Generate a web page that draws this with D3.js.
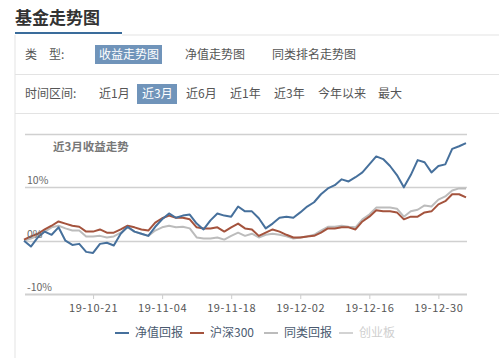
<!DOCTYPE html>
<html><head><meta charset="utf-8">
<script src="https://cdn.jsdelivr.net/npm/d3@7/dist/d3.min.js"></script>
<style>
body{margin:0;background:#fff;}
svg text{font-family:"Noto Sans CJK SC","Noto Sans",sans-serif;}
</style></head>
<body><svg id="c" width="499" height="358"></svg>
<script>
const dates = ["2019-09-30","2019-10-08","2019-10-09","2019-10-10","2019-10-11","2019-10-14","2019-10-15","2019-10-16","2019-10-17","2019-10-18",
"2019-10-21","2019-10-22","2019-10-23","2019-10-24","2019-10-25","2019-10-28","2019-10-29","2019-10-30","2019-10-31","2019-11-01",
"2019-11-04","2019-11-05","2019-11-06","2019-11-07","2019-11-08","2019-11-11","2019-11-12","2019-11-13","2019-11-14","2019-11-15",
"2019-11-18","2019-11-19","2019-11-20","2019-11-21","2019-11-22","2019-11-25","2019-11-26","2019-11-27","2019-11-28","2019-11-29",
"2019-12-02","2019-12-03","2019-12-04","2019-12-05","2019-12-06","2019-12-09","2019-12-10","2019-12-11","2019-12-12","2019-12-13",
"2019-12-16","2019-12-17","2019-12-18","2019-12-19","2019-12-20","2019-12-23","2019-12-24","2019-12-25","2019-12-26","2019-12-27",
"2019-12-30","2019-12-31","2020-01-02","2020-01-03","2020-01-06"];
const navReturn = [0,-1.1,0.6,1.7,1.1,2.5,0,-0.8,-0.6,-2.1,
-2.3,-0.6,-0.4,-0.9,1.3,2.6,1.7,1.3,0.9,2.6,
4.0,5.1,4.3,4.7,4.9,3.2,2.1,3.8,5.1,4.7,
4.5,6.4,5.5,5.5,4.2,2.3,3.2,4.3,4.5,4.3,
5.3,6.4,7.2,8.7,9.8,10.4,11.5,11.1,11.9,12.8,
14.3,15.8,15.3,14.0,12.3,10.0,12.3,15.1,14.7,12.8,
14.0,14.3,17.2,17.7,18.3];
const hs300 = [0.2,0.8,1.3,2.1,2.8,3.6,3.2,2.8,2.6,1.7,
1.7,2.1,1.5,1.5,2.1,2.8,2.5,2.1,1.9,3.4,
4.2,4.7,4.3,4.3,4.0,2.5,2.3,2.3,2.5,1.7,
2.5,3.2,2.3,2.1,0.9,1.5,2.1,1.7,1.1,0.6,
0.6,0.8,0.9,1.5,2.3,2.3,2.5,2.5,2.1,3.6,
4.5,5.7,5.5,5.5,5.3,4.0,4.5,4.5,5.3,5.5,
6.8,7.4,8.7,8.7,8.1];
const peerReturn = [0,0.4,0.9,1.7,2.5,2.8,2.3,1.9,1.9,0.8,
0.8,0.9,0.6,0.8,1.5,2.5,1.7,1.3,0.9,1.9,
2.5,2.8,2.5,2.6,2.3,0.6,0.4,0.4,0.6,0.2,
0.9,1.5,0.9,1.3,0.6,1.1,1.3,1.1,0.8,0.4,
0.6,0.8,1.1,1.9,2.6,2.6,2.8,2.6,2.5,4.0,
4.9,6.2,6.2,6.2,6.0,4.5,5.5,5.8,6.6,6.4,
7.7,8.3,9.4,9.8,9.8];
const tickDates = ["2019-10-21","2019-11-04","2019-11-18","2019-12-02","2019-12-16","2019-12-30"];
const yTicks = [-10,0,10,20];
const typeTabs = ["收益走势图","净值走势图","同类排名走势图"];
const rangeTabs = ["近1月","近3月","近6月","近1年","近3年","今年以来","最大"];
const legendNames = ["净值回报","沪深300","同类回报","创业板"];
const colors = ["#46709c","#a4533d","#bcbcbc","#d3d3d3"];

const svg = d3.select("#c");
// header
svg.append("text").attr("x",15).attr("y",24).attr("font-size",17).attr("font-weight","bold").attr("fill","#333").text("基金走势图");
svg.append("line").attr("x1",122).attr("x2",499).attr("y1",35).attr("y2",35).attr("stroke","#e3e3e3");
svg.append("line").attr("x1",15).attr("x2",15).attr("y1",35).attr("y2",358).attr("stroke","#e3e3e3");
svg.append("rect").attr("x",15).attr("y",32).attr("width",107).attr("height",2).attr("fill","#3a6c9b");
// row 1
svg.append("text").attr("x",25).attr("y",59).attr("font-size",12).attr("fill","#555").text("类　型:");
const t1x=[96,185,272];
typeTabs.forEach((t,i)=>{
  if(i===0) svg.append("rect").attr("x",95).attr("y",45).attr("width",67).attr("height",19).attr("fill","#7094ba");
  svg.append("text").attr("x",t1x[i]+ (i===0?3:0)).attr("y",59).attr("font-size",12).attr("fill",i===0?"#fff":"#555").text(t);
});
svg.append("line").attr("x1",15).attr("x2",499).attr("y1",74.5).attr("y2",74.5).attr("stroke","#e3e3e3");
// row 2
svg.append("text").attr("x",25).attr("y",98).attr("font-size",12).attr("fill","#555").text("时间区间:");
const t2x=[99,142,186,230,274,318,378];
rangeTabs.forEach((t,i)=>{
  if(i===1) svg.append("rect").attr("x",137).attr("y",84).attr("width",40).attr("height",20).attr("fill","#7094ba");
  svg.append("text").attr("x",t2x[i]).attr("y",98).attr("font-size",12).attr("fill",i===1?"#fff":"#555").text(t);
});
svg.append("line").attr("x1",15).attr("x2",499).attr("y1",113.5).attr("y2",113.5).attr("stroke","#e3e3e3");

// chart
const x = d3.scalePoint().domain(dates).range([24,466]);
const y = d3.scaleLinear().domain([-10,20]).range([294,134]);
const g = svg.append("g");
yTicks.forEach(v=>{
  g.append("line").attr("x1",25).attr("x2",467).attr("y1",Math.round(y(v))+0.5).attr("y2",Math.round(y(v))+0.5)
   .attr("stroke","#d0d0d0").attr("stroke-width",v===-10?2:1.3);
});
svg.append("text").attr("x",53).attr("y",151).attr("font-size",11.5).attr("font-weight","bold").attr("fill","#777").text("近3月收益走势");
const xa = g.append("g").attr("transform","translate(0,"+(Math.round(y(-10))+1)+")")
  .call(d3.axisBottom(x).tickValues(tickDates).tickSize(4).tickSizeOuter(0).tickFormat(d=>d.slice(2)));
xa.select(".domain").remove();
xa.selectAll("line").attr("stroke","#ccc");
xa.selectAll("text").attr("font-family","DejaVu Sans").attr("font-size",11).attr("letter-spacing","0.6px").attr("fill","#555").attr("dy","0.95em");
const series=[navReturn,hs300,peerReturn];
const line=d3.line().x((d,i)=>x(dates[i])).y(d=>y(d));
[2,1,0].forEach(k=>{
  g.append("path").datum(series[k]).attr("d",line).attr("fill","none").attr("stroke",colors[k]).attr("stroke-width",2).attr("stroke-linejoin","round");
});
yTicks.filter(v=>v<20).forEach(v=>{
  g.append("text").attr("x",27).attr("y",y(v)-3).attr("font-family","DejaVu Sans").attr("font-size",10.5).attr("fill","#666").text(v+"%");
});
// legend
const lx=[115,190,264,339];
legendNames.forEach((n,i)=>{
  svg.append("line").attr("x1",lx[i]).attr("x2",lx[i]+14).attr("y1",333).attr("y2",333).attr("stroke",colors[i]).attr("stroke-width",2);
  svg.append("text").attr("x",lx[i]+20).attr("y",337).attr("font-size",12).attr("fill",i===3?"#cfcfcf":"#4a5a70").text(n);
});
</script></body></html>
